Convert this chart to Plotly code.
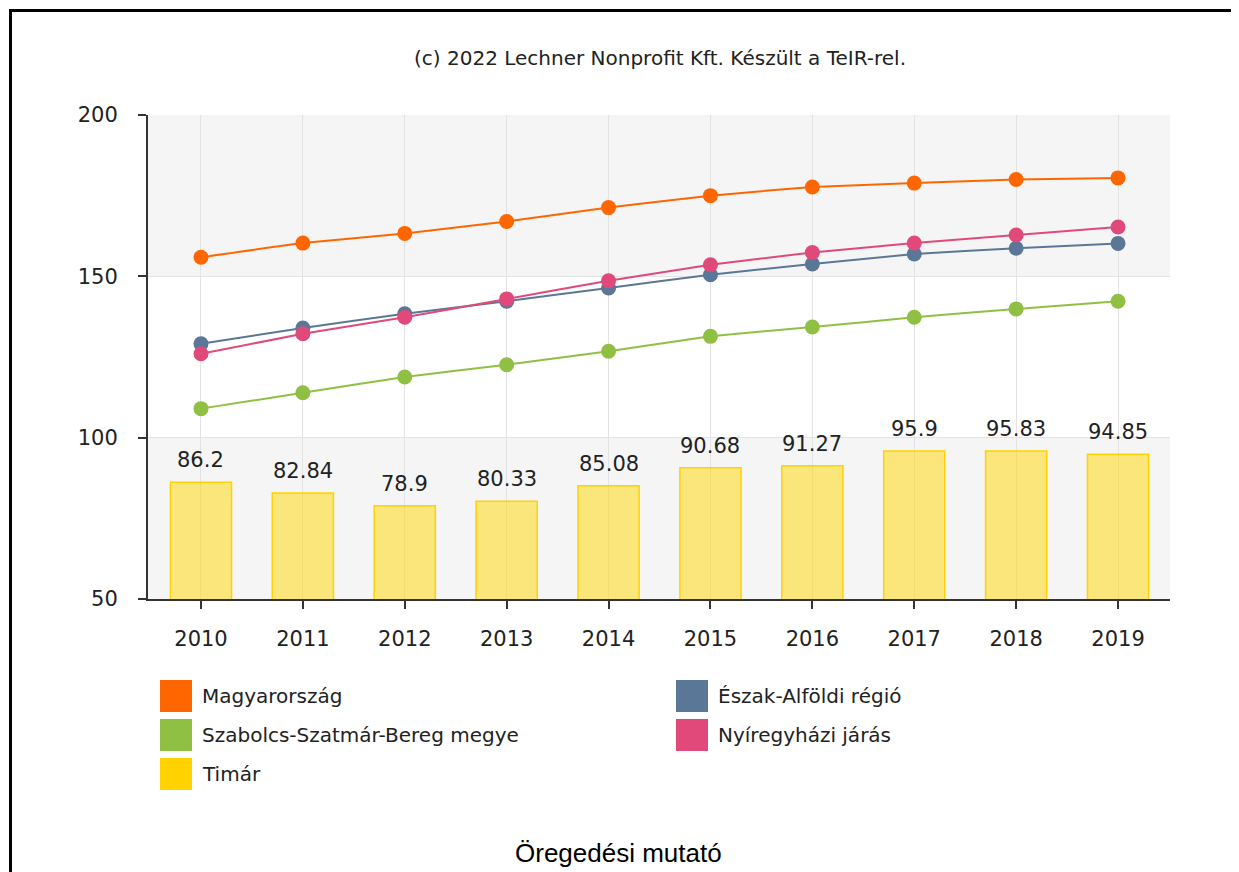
import plotly.graph_objects as go

years = ["2010", "2011", "2012", "2013", "2014", "2015", "2016", "2017", "2018", "2019"]
timar = [86.2, 82.84, 78.9, 80.33, 85.08, 90.68, 91.27, 95.9, 95.83, 94.85]
magyarorszag = [155.9, 160.3, 163.3, 167.0, 171.3, 175.0, 177.7, 178.9, 180.0, 180.5]
eszak_alfold = [129.1, 134.0, 138.4, 142.3, 146.4, 150.5, 153.8, 156.9, 158.7, 160.2]
szabolcs = [109.0, 113.9, 118.8, 122.6, 126.8, 131.4, 134.3, 137.3, 139.9, 142.3]
nyiregyhaza = [126.0, 132.2, 137.3, 143.0, 148.6, 153.6, 157.4, 160.3, 162.8, 165.3]
y_ticks = [50, 100, 150, 200]

colors = {"Magyarország": "#ff6600", "Észak-Alföldi régió": "#5b7797",
          "Szabolcs-Szatmár-Bereg megye": "#8fc043", "Nyíregyházi járás": "#e0497a",
          "Timár": "#ffd200"}

FONT = "DejaVu Sans"
TXT = "#222222"

# page is offset by the 8px body margin
OFF = 8
W, H = 1239 - OFF, 872 - OFF
ml, mt = 148 - OFF, 115 - OFF
mr = W - (1170 - OFF)
mb = H - (599 - OFF)
pw, ph = W - ml - mr, H - mt - mb


def px(x):  # page x -> paper
    return (x - OFF - ml) / pw


def py(y):  # page y -> paper
    return (H - mb - (y - OFF)) / ph


fig = go.Figure()
fig.add_trace(go.Bar(
    x=years, y=timar, name="Timár", width=0.6,
    marker=dict(color="rgba(255,215,0,0.5)", line=dict(color="#ffd200", width=1.5)),
    showlegend=False, hoverinfo="x+y",
))

for nm, vals in [("Szabolcs-Szatmár-Bereg megye", szabolcs),
                 ("Észak-Alföldi régió", eszak_alfold),
                 ("Nyíregyházi járás", nyiregyhaza),
                 ("Magyarország", magyarorszag)]:
    fig.add_trace(go.Scatter(
        x=years, y=vals, name=nm, mode="lines+markers",
        line=dict(color=colors[nm], width=2, shape="spline", smoothing=0.3),
        marker=dict(color=colors[nm], size=15),
        showlegend=False,
    ))

annotations = []
# bar value labels (category index positions)
for i, v in enumerate(timar):
    annotations.append(dict(x=i, y=v, xref="x", yref="y", text=f"{v:g}",
                            showarrow=False, yanchor="bottom", yshift=8,
                            font=dict(family=FONT, size=21, color=TXT)))

shapes = [
    dict(type="rect", xref="paper", yref="y", x0=0, x1=1, y0=150, y1=200,
         fillcolor="#f5f5f5", line=dict(width=0), layer="below"),
    dict(type="rect", xref="paper", yref="y", x0=0, x1=1, y0=50, y1=100,
         fillcolor="#f5f5f5", line=dict(width=0), layer="below"),
    # outer frame (top & left)
    dict(type="line", xref="paper", yref="paper", x0=px(10), x1=px(1250), y0=py(10.5), y1=py(10.5),
         line=dict(color="black", width=3)),
    dict(type="line", xref="paper", yref="paper", x0=px(10.5), x1=px(10.5), y0=py(9), y1=py(900),
         line=dict(color="black", width=3)),
]

legend_items = [
    ("Magyarország", 160, 680),
    ("Észak-Alföldi régió", 676, 680),
    ("Szabolcs-Szatmár-Bereg megye", 160, 719),
    ("Nyíregyházi járás", 676, 719),
    ("Timár", 160, 758),
]
for nm, lx, ly in legend_items:
    shapes.append(dict(type="rect", xref="paper", yref="paper",
                       x0=px(lx), x1=px(lx + 32), y0=py(ly), y1=py(ly + 32),
                       fillcolor=colors[nm], line=dict(color=colors[nm], width=0)))
    annotations.append(dict(xref="paper", yref="paper", x=px(lx + 40), y=py(ly + 16),
                            xanchor="left", yanchor="middle", showarrow=False,
                            text=nm, font=dict(family=FONT, size=20, color=TXT)))

annotations.append(dict(xref="paper", yref="paper", x=px(660), y=py(58),
                        xanchor="center", yanchor="middle", showarrow=False,
                        text="(c) 2022 Lechner Nonprofit Kft. Készült a TeIR-rel.",
                        font=dict(family=FONT, size=20, color=TXT)))
annotations.append(dict(xref="paper", yref="paper", x=px(618), y=py(853),
                        xanchor="center", yanchor="middle", showarrow=False,
                        text="Öregedési mutató",
                        font=dict(family="Liberation Sans", size=26, color="black")))

fig.update_layout(
    width=W, height=H,
    margin=dict(l=ml, r=mr, t=mt, b=mb, pad=0),
    paper_bgcolor="white", plot_bgcolor="white",
    shapes=shapes, annotations=annotations,
    showlegend=False,
    xaxis=dict(
        type="category", range=[-0.52, 9.51],
        showgrid=True, gridcolor="#e3e3e3", gridwidth=1,
        showline=True, linecolor="#333", linewidth=2,
        ticks="outside", ticklen=8, tickcolor="#333", tickwidth=2,
        ticklabelstandoff=12,
        tickfont=dict(family=FONT, size=21, color=TXT),
        fixedrange=True,
    ),
    yaxis=dict(
        range=[50, 200], tickvals=y_ticks,
        showgrid=True, gridcolor="#e3e3e3", gridwidth=1,
        showline=True, linecolor="#333", linewidth=2,
        ticks="outside", ticklen=8, tickcolor="#333", tickwidth=2,
        ticklabelstandoff=16,
        tickfont=dict(family=FONT, size=21, color=TXT),
        zeroline=False, fixedrange=True,
    ),
)

fig.write_html("out.html")
